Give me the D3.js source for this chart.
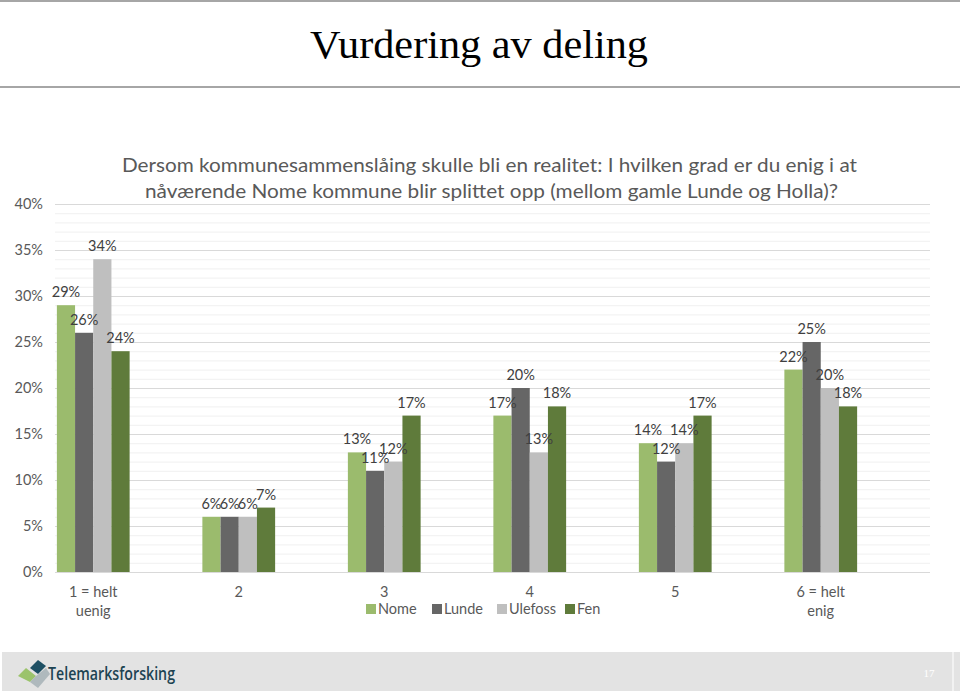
<!DOCTYPE html>
<html><head><meta charset="utf-8">
<script src="https://cdn.jsdelivr.net/npm/d3@7"></script>
<style>body{margin:0;background:#fff}svg{display:block}</style>
</head><body>
<svg id="c" width="960" height="694"></svg>
<script>
const categories = ["1 = helt|uenig", "2", "3", "4", "5", "6 = helt|enig"];
const seriesNames = ["Nome", "Lunde", "Ulefoss", "Fen"];
const nome    = [29, 6, 13, 17, 14, 22];
const lunde   = [26, 6, 11, 20, 12, 25];
const ulefoss = [34, 6, 12, 13, 14, 20];
const fen     = [24, 7, 17, 18, 17, 18];
const yTicks = [0, 5, 10, 15, 20, 25, 30, 35, 40];
const colors = ["#9bbb6d", "#666666", "#bfbfbf", "#5f7b3b"];
const title = "Vurdering av deling";
const subtitle = ["Dersom kommunesammenslåing skulle bli en realitet: I hvilken grad er du enig i at",
                  "nåværende Nome kommune blir splittet opp (mellom gamle Lunde og Holla)?"];

const series = [nome, lunde, ulefoss, fen];
const svg = d3.select("#c");
const font = "Lato, 'Open Sans', sans-serif";

// header lines
svg.append("rect").attr("x",0).attr("y",0).attr("width",960).attr("height",2).attr("fill","#a6a6a6");
svg.append("rect").attr("x",0).attr("y",86).attr("width",960).attr("height",2).attr("fill","#a6a6a6");
svg.append("text").attr("x",479).attr("y",58).attr("text-anchor","middle")
  .attr("font-family","'Liberation Serif', 'DejaVu Serif', serif").attr("font-size",41)
  .attr("textLength",338).attr("lengthAdjust","spacingAndGlyphs")
  .attr("fill","#000").text(title);

// scales
const y = d3.scaleLinear().domain([0, 40]).range([572, 204]);
const x0 = d3.scaleBand().domain(categories).range([20.5, 893.5]).paddingInner(0.5).paddingOuter(0.25);
const x1 = d3.scaleBand().domain(seriesNames).range([0, x0.bandwidth()]);

// gridlines
const g = svg.append("g");
g.selectAll("line.minor").data(d3.range(0, 41, 1).filter(v => v % 5 !== 0)).join("line")
  .attr("x1",55).attr("x2",930).attr("y1",d=>y(d)+0.5).attr("y2",d=>y(d)+0.5)
  .attr("stroke","#f0f0f0").attr("stroke-width",1);
g.selectAll("line.major").data(yTicks).join("line")
  .attr("x1",55).attr("x2",930).attr("y1",d=>y(d)+0.5).attr("y2",d=>y(d)+0.5)
  .attr("stroke","#d9d9d9").attr("stroke-width",1);

// y labels
svg.append("g").selectAll("text").data(yTicks).join("text")
  .attr("x",43).attr("y",d=>y(d)+5).attr("text-anchor","end")
  .attr("font-family",font).attr("font-size",14.5).attr("fill","#595959")
  .text(d=>d+"%");

// bars
const groups = svg.append("g").selectAll("g").data(categories).join("g")
  .attr("transform", d => `translate(${x0(d)},0)`);
groups.each(function(cat, ci) {
  const gg = d3.select(this);
  seriesNames.forEach((s, si) => {
    const v = series[si][ci];
    gg.append("rect").attr("x", x1(s)).attr("width", x1.bandwidth())
      .attr("y", y(v)).attr("height", y(0) - y(v)).attr("fill", colors[si]);
  });
  seriesNames.forEach((s, si) => {
    const v = series[si][ci];
    gg.append("text").attr("x", x1(s) + x1.bandwidth()/2).attr("y", y(v) - 8)
      .attr("text-anchor","middle").attr("font-family",font).attr("font-size",14.5)
      .attr("fill","#404040").text(v + "%");
  });
});

// category labels
const cl = svg.append("g").selectAll("text").data(categories).join("text")
  .attr("x", d => x0(d) + x0.bandwidth()/2).attr("y", 597)
  .attr("text-anchor","middle").attr("font-family",font).attr("font-size",14.5).attr("fill","#595959");
cl.each(function(d){
  const parts = d.split("|");
  const t = d3.select(this);
  parts.forEach((p,i)=> t.append("tspan").attr("x", t.attr("x")).attr("dy", i===0?0:19).text(p));
});

// subtitle
subtitle.forEach((s,i)=>{
  svg.append("text").attr("x", i===0?489.5:491.5).attr("y", 172 + i*26).attr("text-anchor","middle")
    .attr("font-family",font).attr("font-size",20).attr("fill","#595959")
    .attr("textLength", i===0?735:693).attr("lengthAdjust","spacingAndGlyphs").text(s);
});

// legend
const legX = [366, 432, 497, 565];
const leg = svg.append("g").selectAll("g").data(seriesNames).join("g")
  .attr("transform",(d,i)=>`translate(${legX[i]},604)`);
leg.append("rect").attr("width",10).attr("height",10).attr("fill",(d,i)=>colors[i]);
leg.append("text").attr("x",12).attr("y",10).attr("font-family",font).attr("font-size",14.5)
  .attr("fill","#595959").text(d=>d);

// footer
svg.append("rect").attr("x",2).attr("y",652).attr("width",958).attr("height",39).attr("fill","#e3e3e3");
svg.append("rect").attr("x",952).attr("y",652).attr("width",2).attr("height",39).attr("fill","#f2f2f2");
svg.append("text").attr("x",929).attr("y",677).attr("text-anchor","middle")
  .attr("font-family","'Liberation Serif', serif").attr("font-size",11).attr("fill","#ffffff").text("17");
// logo icon
const logo = svg.append("g").attr("transform","translate(16,656)");
logo.append("polygon").attr("points","14,12 22,4 30,10 22,18").attr("fill","#1d4f63");
logo.append("polygon").attr("points","2,20 10,12 20,20 14,26").attr("fill","#9bc36b");
logo.append("polygon").attr("points","14,26 20,20 30,12 34,18 22,32").attr("fill","#a9b4b8").attr("opacity",0.9);
svg.append("text").attr("x",48).attr("y",680).attr("font-family","'Open Sans', sans-serif")
  .attr("font-weight",600).attr("font-size",18.5).attr("fill","#1d4352")
  .attr("textLength",127).attr("lengthAdjust","spacingAndGlyphs").text("Telemarksforsking");
</script>
</body></html>
